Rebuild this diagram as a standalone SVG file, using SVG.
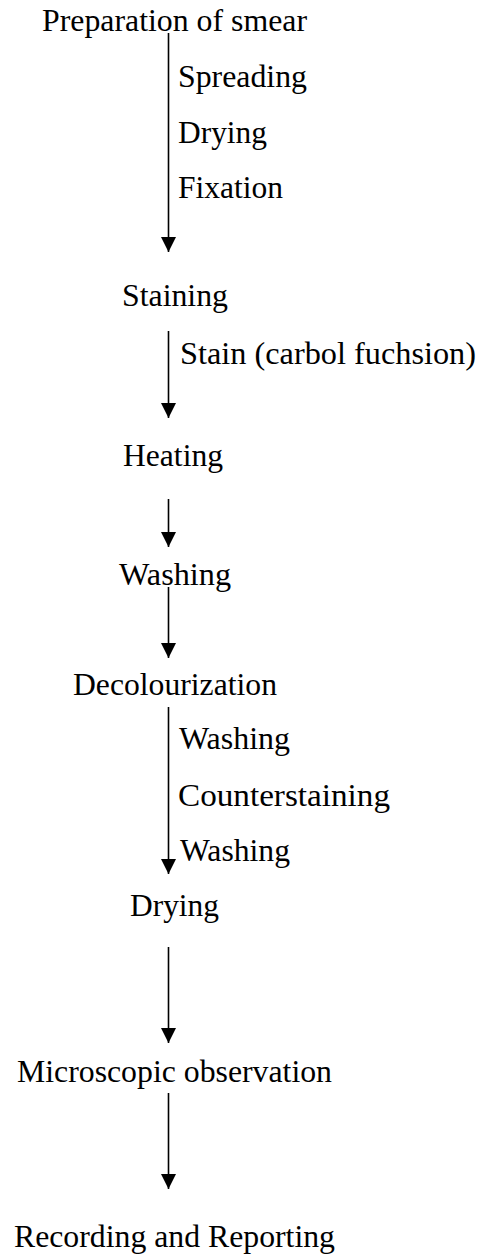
<svg xmlns="http://www.w3.org/2000/svg" width="477" height="1257" viewBox="0 0 477 1257">
<style>
text{font-family:"Liberation Serif","Times New Roman",serif;font-size:31.5px;fill:#000}
.c line{stroke:#000;stroke-width:1.6;marker-end:url(#ah)}
</style>
<defs>
<marker id="ah" markerUnits="userSpaceOnUse" markerWidth="16" markerHeight="16" refX="15" refY="7.5" orient="auto">
<path d="M0,0 L15,7.5 L0,15 z" fill="#000"/>
</marker>
</defs>
<rect width="477" height="1257" fill="#fff"/>
<g class="c" id="connectors">
<line x1="168.5" y1="33" x2="168.5" y2="252"/>
<line x1="168.5" y1="331" x2="168.5" y2="418"/>
<line x1="168.5" y1="499" x2="168.5" y2="547"/>
<line x1="168.5" y1="587" x2="168.5" y2="658"/>
<line x1="168.5" y1="707" x2="168.5" y2="874"/>
<line x1="168.5" y1="947" x2="168.5" y2="1043"/>
<line x1="168.5" y1="1093" x2="168.5" y2="1189"/>
</g>
<g id="n-prep"><text x="42" y="31" textLength="265" lengthAdjust="spacingAndGlyphs">Preparation of smear</text></g>
<g id="n-spreading"><text x="178" y="87" textLength="129" lengthAdjust="spacingAndGlyphs">Spreading</text></g>
<g id="n-drying1"><text x="178" y="143" textLength="89" lengthAdjust="spacingAndGlyphs">Drying</text></g>
<g id="n-fixation"><text x="178" y="198" textLength="105" lengthAdjust="spacingAndGlyphs">Fixation</text></g>
<g id="n-staining"><text x="122" y="306" textLength="106" lengthAdjust="spacingAndGlyphs">Staining</text></g>
<g id="n-stain"><text x="180" y="364" textLength="296" lengthAdjust="spacingAndGlyphs">Stain (carbol fuchsion)</text></g>
<g id="n-heating"><text x="123" y="466" textLength="100" lengthAdjust="spacingAndGlyphs">Heating</text></g>
<g id="n-washing1"><text x="119" y="585" textLength="112" lengthAdjust="spacingAndGlyphs">Washing</text></g>
<g id="n-decol"><text x="73" y="695" textLength="204" lengthAdjust="spacingAndGlyphs">Decolourization</text></g>
<g id="n-washing2"><text x="179" y="749" textLength="111" lengthAdjust="spacingAndGlyphs">Washing</text></g>
<g id="n-counter"><text x="178" y="806" textLength="212" lengthAdjust="spacingAndGlyphs">Counterstaining</text></g>
<g id="n-washing3"><text x="180" y="861" textLength="110" lengthAdjust="spacingAndGlyphs">Washing</text></g>
<g id="n-drying2"><text x="130" y="916" textLength="89" lengthAdjust="spacingAndGlyphs">Drying</text></g>
<g id="n-micro"><text x="17" y="1082" textLength="315" lengthAdjust="spacingAndGlyphs">Microscopic observation</text></g>
<g id="n-record"><text x="14" y="1247" textLength="321" lengthAdjust="spacingAndGlyphs">Recording and Reporting</text></g>
</svg>
